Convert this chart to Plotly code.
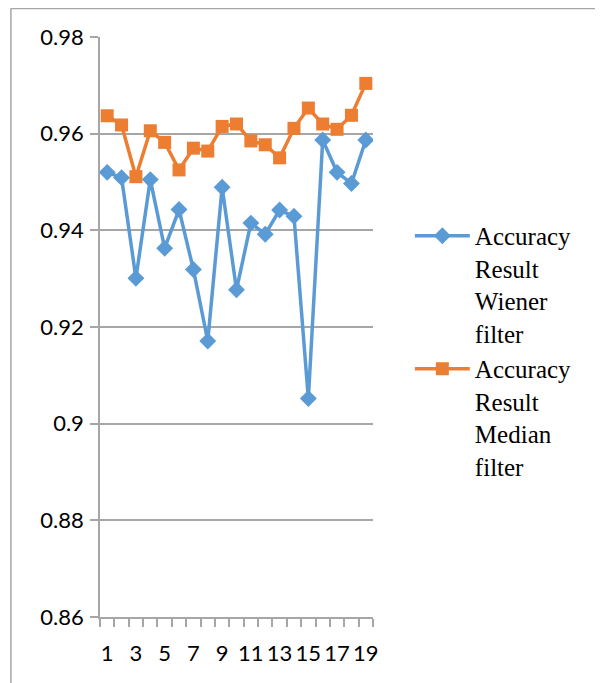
import plotly.graph_objects as go

runs = list(range(1, 20))
wiener = [0.9520, 0.9509, 0.9301, 0.9505, 0.9363, 0.9443, 0.9319, 0.9171, 0.9489, 0.9277,
          0.9415, 0.9392, 0.9442, 0.9429, 0.9052, 0.9587, 0.9520, 0.9497, 0.9587]
median = [0.9637, 0.9618, 0.9511, 0.9606, 0.9582, 0.9525, 0.9570, 0.9564, 0.9615, 0.9620,
          0.9585, 0.9577, 0.9550, 0.9611, 0.9653, 0.9620, 0.9609, 0.9638, 0.9704]
x_labels = [str(i) for i in range(1, 20, 2)]
y_ticks = [0.86, 0.88, 0.90, 0.92, 0.94, 0.96, 0.98]
y_labels = ["0.86", "0.88", "0.9", "0.92", "0.94", "0.96", "0.98"]

fig = go.Figure()
fig.add_trace(go.Scatter(
    x=runs, y=wiener, mode="lines+markers",
    name="Accuracy<br>Result<br>Wiener<br>filter",
    line=dict(color="#5B9BD5", width=3.5),
    marker=dict(symbol="diamond", size=13, color="#5B9BD5"),
))
fig.add_trace(go.Scatter(
    x=runs, y=median, mode="lines+markers",
    name="Accuracy<br>Result<br>Median<br>filter",
    line=dict(color="#ED7D31", width=3.5),
    marker=dict(symbol="square", size=13, color="#ED7D31"),
))

grid = "#a6a6a6"
L, T, PW, PH = 92, 29, 272.7, 580
W, H = 595, 675
fig.update_layout(
    width=W, height=H,
    margin=dict(l=L, r=W - L - PW, t=T, b=H - T - PH),
    paper_bgcolor="white", plot_bgcolor="white",
    font=dict(family="Lato", size=22, color="black"),
    showlegend=True,
    legend=dict(
        x=1.135, y=0.6966, xanchor="left", yanchor="top",
        font=dict(family="Liberation Serif", size=25, color="black"),
        itemwidth=55, valign="top", tracegroupgap=12,
        bgcolor="rgba(0,0,0,0)",
    ),
    xaxis=dict(
        range=[0.5, 19.5], tickmode="array",
        tickvals=list(range(1, 20, 2)), ticktext=x_labels,
        ticks="", showgrid=False, zeroline=False,
        showline=True, linecolor=grid, linewidth=1.5,
        minor=dict(ticks="outside", tick0=0.5, dtick=1, ticklen=8,
                   tickcolor=grid, tickwidth=1.5, showgrid=False),
        tickfont=dict(family="Lato", size=22), ticklabelstandoff=16,
    ),
    yaxis=dict(
        range=[0.86, 0.98], tickmode="array",
        tickvals=y_ticks, ticktext=y_labels,
        ticks="outside", ticklen=8, tickcolor=grid, tickwidth=1.5,
        showgrid=True, gridcolor=grid, gridwidth=1.5, zeroline=False,
        showline=True, linecolor=grid, linewidth=1.5,
        tickfont=dict(family="Lato", size=22), ticklabelstandoff=2,
    ),
    shapes=[
        dict(type="line", xref="paper", yref="paper",
             x0=(3 - L) / PW, x1=(3 - L) / PW,
             y0=1 + (T - 0.5) / PH, y1=-(H - T - PH) / PH - 0.01,
             line=dict(color=grid, width=1.5)),
        dict(type="line", xref="paper", yref="paper",
             x0=(3 - L) / PW, x1=(W + 2 - L) / PW,
             y0=1 + (T - 0.5) / PH, y1=1 + (T - 0.5) / PH,
             line=dict(color=grid, width=1.5)),
    ],
)

fig.write_html("out.html")
